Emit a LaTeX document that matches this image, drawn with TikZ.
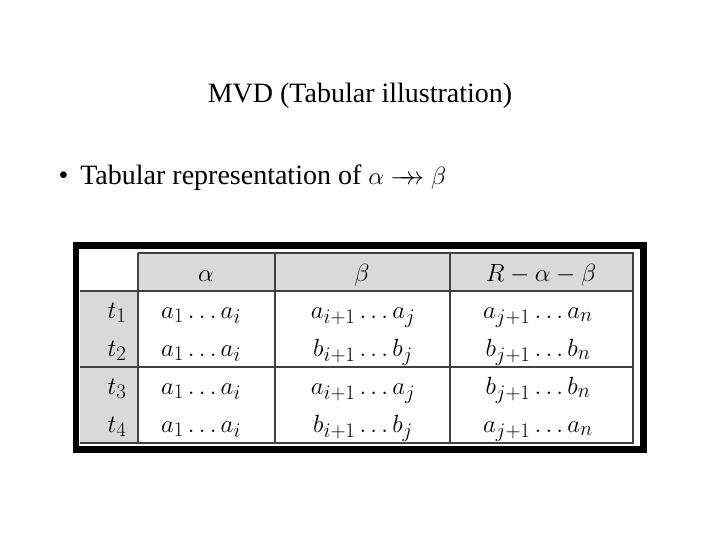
\documentclass[tikz,border=0pt]{standalone}
\usepackage{fontspec}
\setmainfont{Liberation Serif}
\begin{document}
\begin{tikzpicture}[x=1pt,y=-1pt,
  cell/.style={inner sep=0pt,anchor=base,font=\fontsize{31}{34}\selectfont},
  gridl/.style={line width=1.2pt,draw=black!75}]
\useasboundingbox (0,0) rectangle (720,540);
\node[font=\fontsize{28}{32}\selectfont] (title) at (360,96) {MVD (Tabular illustration)};
\node[anchor=west,font=\fontsize{28}{32}\selectfont] (bul) at (55,178) {\textbullet\hspace{12pt}Tabular representation of $\alpha \rightarrow\!\!\!\!\rightarrow \beta$};
\fill[black] (73,242) rectangle (647,453);
\fill[white] (79,249) rectangle (640,446);
\fill[black!15] (138,253) rectangle (633,291);
\fill[black!15] (80,291) rectangle (138,443);
\draw[gridl] (138,253) -- (633,253) -- (633,443) -- (80,443);
\draw[gridl] (80,291) -- (633,291);
\draw[gridl] (80,367) -- (633,367);
\draw[gridl] (138,253) -- (138,443);
\draw[gridl] (275,253) -- (275,443);
\draw[gridl] (450,253) -- (450,443);
\node[cell] (ha) at (206,281) {$\alpha$};
\node[cell] (hb) at (362,281) {$\beta$};
\node[cell] (hr) at (541,281) {$R-\alpha-\beta$};
\foreach \r/\y/\b/\c in {1/318/a/a,2/356/b/b,3/394/a/b,4/432/b/a}{
  \node[cell] (t\r) at (117,\y) {$t_{\r}$};
  \node[cell] (x\r) at (201,\y) {$a_1\ldots a_i$};
  \node[cell] (y\r) at (363,\y) {$\b_{i+1}\ldots \b_j$};
  \node[cell] (z\r) at (538,\y) {$\c_{j+1}\ldots \c_n$};
}
\end{tikzpicture}
\end{document}
